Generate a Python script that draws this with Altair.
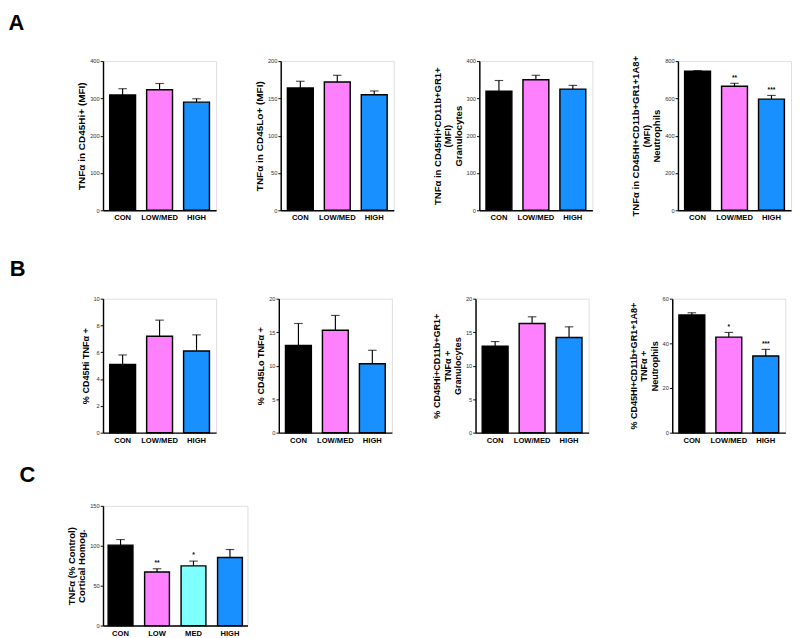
import altair as alt
import pandas as pd

FONT = "Liberation Sans"

# ---- data ----
cats3 = ["CON", "LOW/MED", "HIGH"]
cats4 = ["CON", "LOW", "MED", "HIGH"]
colors3 = ["#000000", "#FF80FF", "#1890FF"]
colors4 = ["#000000", "#FF80FF", "#80FFFF", "#1890FF"]

a1_mean = [309, 323, 290]
a1_err = [17, 17, 9]
a2_mean = [164, 172, 155]
a2_err = [9, 9, 5]
a3_mean = [319, 350, 325]
a3_err = [29, 12, 10]
a4_mean = [746, 665, 596]
a4_err = [3, 16, 20]
a4_stars = ["", "**", "***"]

b1_mean = [5.1, 7.2, 6.1]
b1_err = [0.7, 1.2, 1.2]
b2_mean = [13.0, 15.3, 10.3]
b2_err = [3.3, 2.2, 2.0]
b3_mean = [12.9, 16.3, 14.2]
b3_err = [0.7, 1.0, 1.6]
b4_mean = [52.7, 42.8, 34.3]
b4_err = [1.0, 2.1, 3.0]
b4_stars = ["", "*", "***"]

c_mean = [100.8, 67.2, 74.8, 85.3]
c_err = [7, 4, 6, 10]
c_stars = ["", "**", "*", ""]

no_stars3 = ["", "", ""]


def panel(cats, means, errs, stars, colors, ymax, yticks, title, width, height,
          pin=0.3, pout=0.18, title_size=10, line_h=11):
    df = pd.DataFrame({
        "cat": cats,
        "mean": means,
        "err": errs,
        "star": stars,
        "color": colors,
    })
    xenc = alt.X(
        "cat:N", sort=cats,
        scale=alt.Scale(paddingInner=pin, paddingOuter=pout),
        axis=alt.Axis(title=None, labelAngle=0, ticks=False, labelFontWeight="bold",
                      labelFontSize=8, labelColor="black", labelFont=FONT,
                      domainColor="black", domainWidth=1.5, labelPadding=4),
    )
    yaxis = alt.Axis(values=yticks, title=title, grid=False, tickSize=3, tickColor="black",
                     tickWidth=1, labelFontSize=6, labelColor="#333333", labelFont=FONT,
                     labelPadding=1, domainColor="black", domainWidth=1.5,
                     titleFont=FONT, titleFontSize=title_size, titleFontWeight="bold",
                     titleColor="black", titlePadding=3, titleLineHeight=line_h)
    yscale = alt.Scale(domain=[0, ymax], nice=False)
    base = alt.Chart(df).transform_calculate(upper="datum.mean + datum.err")
    bars = base.mark_bar(stroke="black", strokeWidth=1.5).encode(
        x=xenc,
        y=alt.Y("mean:Q", scale=yscale, axis=yaxis),
        fill=alt.Fill("color:N", scale=None),
    )
    rule = base.mark_rule(color="black", strokeWidth=1.2).encode(
        x=xenc,
        y=alt.Y("mean:Q", scale=yscale, axis=yaxis),
        y2="upper:Q",
    )
    cap = base.mark_tick(color="black", thickness=1.2, size=9).encode(
        x=xenc,
        y=alt.Y("upper:Q", scale=yscale, axis=yaxis),
    )
    txt = base.mark_text(dy=-6, fontSize=7, fontWeight="bold", font=FONT, color="black").encode(
        x=xenc,
        y=alt.Y("upper:Q", scale=yscale, axis=yaxis),
        text="star:N",
    )
    return alt.layer(bars, rule, cap, txt).properties(width=width, height=height)


HA, HB, HC = 157, 141, 126
W = 119

a1 = panel(cats3, a1_mean, a1_err, no_stars3, colors3, 400, [0, 100, 200, 300, 400],
           "TNFα in CD45Hi+ (MFI)", W, HA, title_size=10.5)
a2 = panel(cats3, a2_mean, a2_err, no_stars3, colors3, 200, [0, 50, 100, 150, 200],
           "TNFα in CD45Lo+ (MFI)", W, HA, title_size=10.5)
a3 = panel(cats3, a3_mean, a3_err, no_stars3, colors3, 400, [0, 100, 200, 300, 400],
           ["TNFα in CD45Hi+CD11b+GR1+", "(MFI)", "Granulocytes"], W, HA)
a4 = panel(cats3, a4_mean, a4_err, a4_stars, colors3, 800, [0, 200, 400, 600, 800],
           ["TNFα in CD45HI+CD11b+GR1+1A8+", "(MFI)", "Neutrophils"], W, HA)

b1 = panel(cats3, b1_mean, b1_err, no_stars3, colors3, 10, [0, 2, 4, 6, 8, 10],
           "% CD45Hi TNFα +", W, HB, title_size=9.5)
b2 = panel(cats3, b2_mean, b2_err, no_stars3, colors3, 20, [0, 5, 10, 15, 20],
           "% CD45Lo TNFα +", W, HB, title_size=9.5)
b3 = panel(cats3, b3_mean, b3_err, no_stars3, colors3, 20, [0, 5, 10, 15, 20],
           ["% CD45Hi+CD11b+GR1+", "TNFα +", "Granulocytes"], W, HB, title_size=9.5)
b4 = panel(cats3, b4_mean, b4_err, b4_stars, colors3, 60, [0, 20, 40, 60],
           ["% CD45HI+CD11b+GR1+1A8+", "TNFα +", "Neutrophils"], W, HB, title_size=9.5)

c1 = panel(cats4, c_mean, c_err, c_stars, colors4, 150, [0, 50, 100, 150],
           ["TNFα (% Control)", "Cortical Homog."], 152, HC, pin=0.32, pout=0.14,
           title_size=10, line_h=10.5)


def letter(t, dx, offset):
    return alt.TitleParams(text=t, anchor="start", fontSize=23, fontWeight="bold",
                           font=FONT, color="black", dx=dx, offset=offset)


rowA = alt.hconcat(a1, a2, a3, a4, spacing=39).properties(title=letter("A", -72, 21))
rowB = alt.hconcat(b1, b2, b3, b4, spacing=40).properties(title=letter("B", -74, 15))
rowC = alt.hconcat(c1, spacing=30).properties(title=letter("C", -50, 17))

top = alt.vconcat(rowA, rowB, spacing=38)
chart = alt.vconcat(top, rowC, spacing=20).properties(
    padding={"top": -12, "left": 0, "right": 0, "bottom": 0}
).configure_view(stroke=None).configure(background="white")

chart.save("out.html", embed_options={"renderer": "svg", "actions": False})
